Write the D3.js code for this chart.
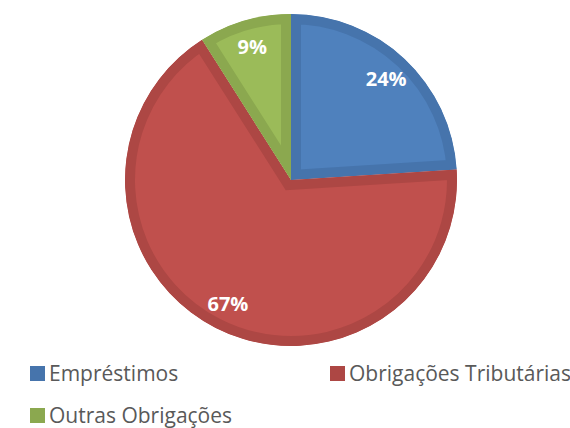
<!DOCTYPE html>
<html lang="pt">
<meta charset="UTF-8">
<script src="https://d3js.org/d3.v7.min.js"></script>
<style>
body {margin:0; background:#fff;}
svg {font-family: "Open Sans", sans-serif;}
</style>
<body>
<div id="chart"><svg width="570" height="428"></svg></div>
<script>
// data
var categories = ["Empréstimos", "Obrigações Tributárias", "Outras Obrigações"];
var values = [24, 67, 9];
var labels = ["24%", "67%", "9%"];
var fills = ["#4F81BD", "#C0504D", "#9BBB59"];
var borders = ["#4674AC", "#AD4744", "#8BA84F"];

var svg = d3.select("svg");
var cx = 291, cy = 180, r = 166;

var pie = d3.pie().sort(null).value(function(d) { return d; });
var arcs = pie(values);
var arc = d3.arc().innerRadius(0).outerRadius(r);
var labelArc = d3.arc().innerRadius(139).outerRadius(139);

var g = svg.append("g").attr("transform", "translate(" + cx + "," + cy + ")");
var defs = svg.append("defs");

arcs.forEach(function(a, i) {
  defs.append("clipPath").attr("id", "clip" + i)
    .append("path").attr("d", arc(a));
  // border drawn inside each slice
  g.append("path")
    .attr("d", arc(a))
    .attr("fill", fills[i])
    .attr("stroke", borders[i])
    .attr("stroke-width", 20)
    .attr("clip-path", "url(#clip" + i + ")");
});

g.selectAll("text.lbl")
  .data(arcs)
  .enter()
  .append("text")
  .attr("class", "lbl")
  .attr("transform", function(d) { return "translate(" + labelArc.centroid(d) + ")"; })
  .attr("text-anchor", "middle")
  .attr("dy", "0.36em")
  .attr("fill", "#fff")
  .attr("font-weight", "bold")
  .attr("font-size", 20)
  .text(function(d, i) { return labels[i]; });

// legend
var legendPos = [[30, 366], [330, 366], [30, 408]];
var leg = svg.selectAll("g.leg")
  .data(categories)
  .enter()
  .append("g")
  .attr("class", "leg")
  .attr("transform", function(d, i) { return "translate(" + legendPos[i] + ")"; });

leg.append("rect")
  .attr("width", 15).attr("height", 15)
  .attr("fill", function(d, i) { return borders[i]; });

leg.append("text")
  .attr("x", 19).attr("y", 15)
  .attr("font-size", 21)
  .attr("fill", "#595959")
  .text(function(d) { return d; });
</script>
</body>
</html>
